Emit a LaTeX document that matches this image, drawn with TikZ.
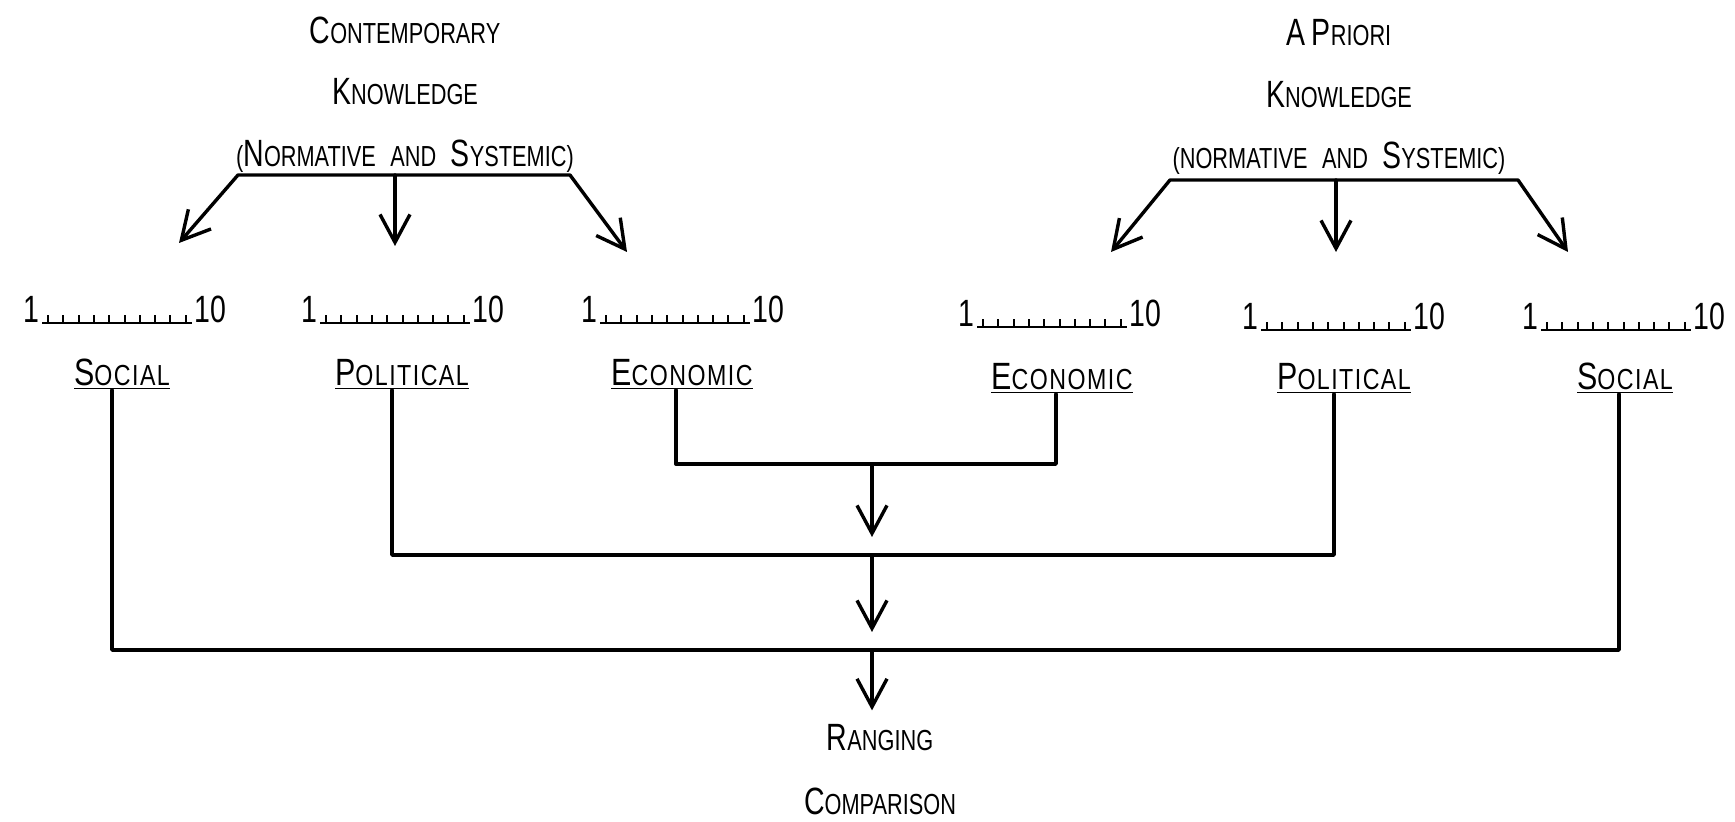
\documentclass[tikz,border=0pt]{standalone}
\usepackage{fontspec}
\setmainfont[FakeStretch=0.75]{Liberation Sans}
\newfontfamily\labelfont[FakeStretch=0.8, LetterSpace=5]{Liberation Sans}
\usetikzlibrary{
  positioning,
  calc,
  arrows.meta,
}
\newcommand{\capA}[1]{{\fontsize{19}{22}\selectfont #1}}
\newcommand{\capB}[1]{{\fontsize{19}{22}\selectfont #1}}
\tikzset{
  meta text/.style={
    inner sep=1pt,
    text centered
  },
  heading/.style={
    meta text,
    font=\fontsize{14.5}{17}\selectfont
  },
  area/.style={
    meta text,
    inner sep=0pt,
    font=\labelfont\fontsize{14.5}{17}\selectfont
  },
  digit/.style={
    inner sep=0pt,
    font=\fontsize{19}{22}\selectfont
  },
  link/.style={
    line width=1.7pt,
    line join=round,
    line cap=round
  },
  barb/.tip={Straight Barb[length=14pt, width=15pt]},
  arrow/.style={
    link,
    -barb
  },
  tick/.style={
    line width=1pt
  }
}

\begin{document}
\begin{tikzpicture}[x=0.5pt, y=-0.5pt]
  \useasboundingbox (0,0) rectangle (1735,822);

  %% Contemporary knowledge
  \node[heading] (con) at (405,30) {\capA{C}ONTEMPORARY};
  \node[heading, below=15pt of con] (conk) {\capA{K}NOWLEDGE};
  \node[heading, below=15pt of conk] (conn) {(\capA{N}ORMATIVE\enskip AND\enskip \capA{S}YSTEMIC)};

  \coordinate (cbl) at (238,175);
  \coordinate (cbm) at (395,175);
  \coordinate (cbr) at (570,175);
  \coordinate (ct1) at (179,243);
  \coordinate (ct2) at (395,246);
  \coordinate (ct3) at (627,252);
  \draw[link, barb-barb] (ct1) -- (cbl) -- (cbr) -- (ct3);
  \draw[arrow] (cbm) -- (ct2);

  %% A priori knowledge
  \node[heading] (apr) at (1339,33) {\capA{A} \capA{P}RIORI};
  \node[heading, below=15pt of apr] (aprk) {\capA{K}NOWLEDGE};
  \node[heading, below=15pt of aprk] (aprn) {(NORMATIVE\enskip AND\enskip \capA{S}YSTEMIC)};

  \coordinate (abl) at (1170,180);
  \coordinate (abm) at (1336,180);
  \coordinate (abr) at (1518,180);
  \coordinate (at1) at (1111,252);
  \coordinate (at2) at (1336,252);
  \coordinate (at3) at (1568,252);
  \draw[link, barb-barb] (at1) -- (abl) -- (abr) -- (at3);
  \draw[arrow] (abm) -- (at2);

  %% Scales 1..10
  \foreach \x/\y [count=\i] in {42/323, 320/323, 600/323, 977/327, 1261/330, 1541/330} {
    \coordinate (r\i) at (\x,\y);
    \node[digit, anchor=base east] (lo\i) at ($(r\i)+(-2,0)$) {1};
    \node[digit, anchor=base west] (hi\i) at ($(r\i)+(152,0)$) {10};
    \draw[tick] (r\i) -- ++(150,0);
    \foreach \t in {0,...,9}
      \draw[tick] ($(r\i)+(6+\t*15.3,0)$) -- ++(0,-8);
  }

  \node[area, anchor=south] (soc1) at (122,390) {\underline{\capB{S}OCIAL}};
  \node[area, anchor=south] (pol1) at (402,390) {\underline{\capB{P}OLITICAL}};
  \node[area, anchor=south] (eco1) at (682,390) {\underline{\capB{E}CONOMIC}};
  \node[area, anchor=south] (eco2) at (1062,394) {\underline{\capB{E}CONOMIC}};
  \node[area, anchor=south] (pol2) at (1344,394) {\underline{\capB{P}OLITICAL}};
  \node[area, anchor=south] (soc2) at (1625,394) {\underline{\capB{S}OCIAL}};

  %% Joining
  \coordinate (j1) at (872,464);
  \coordinate (j2) at (872,555);
  \coordinate (j3) at (872,650);
  \draw[link] ([xshift=-3pt]eco1.south) |- (j1) -| ([xshift=-3pt]eco2.south);
  \draw[link] ([xshift=-5pt]pol1.south) |- (j2) -| ([xshift=-5pt]pol2.south);
  \draw[link] ([xshift=-5pt]soc1.south) |- (j3) -| ([xshift=-3pt]soc2.south);

  \node[heading] (rang) at (880,738) {\capA{R}ANGING};
  \node[heading, below=16pt of rang] (comp) {\capA{C}OMPARISON};

  \draw[arrow, shorten >=9pt] (j1) -- (j2);
  \draw[arrow, shorten >=9pt] (j2) -- (j3);
  \draw[arrow, shorten >=6pt] (j3) -- (j3 |- rang.north);
\end{tikzpicture}
\end{document}
